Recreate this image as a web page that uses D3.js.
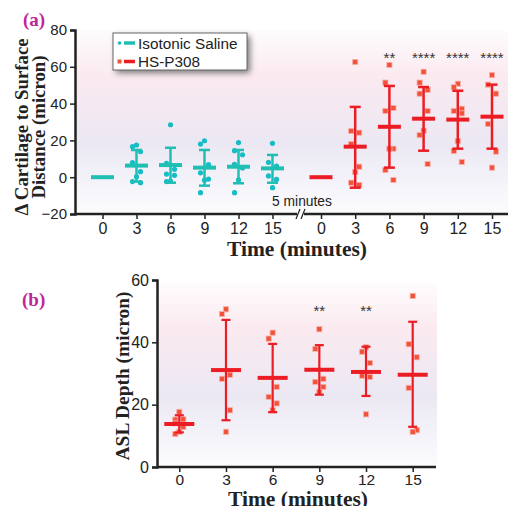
<!DOCTYPE html>
<html>
<head>
<meta charset="utf-8">
<script src="https://cdn.jsdelivr.net/npm/d3@7"></script>
<style>
  body { margin: 0; background: #fff; }
  text { font-family: "Liberation Sans", Arial, sans-serif; }
  text.serif { font-family: "Liberation Serif", "Times New Roman", serif; font-weight: bold; }
</style>
</head>
<body>
<div id="chart"></div>
<script>
// time points (minutes)
var times = [0, 3, 6, 9, 12, 15];

// panel (a) - isotonic saline
var salMean = [0, 6.3, 6.6, 5.2, 5.7, 4.8];
var salHi = [null, 14.8, 16, 14.8, 14.8, 12.1];
var salLo = [null, -2.4, -3.0, -4.6, -3.3, -3.0];
var salPts = [
  [],
  [17.5, 16.6, 13.9, 8.0, 3.0, 0.3, -2.4, -3.0],
  [28.5, 7.5, 4.3, 1.7, 1.0, -2.1, -2.4],
  [19.8, 18.0, 6.8, 2.4, -1.0, -1.6, -8.4],
  [18.8, 14.4, 12.2, 7.0, 5.0, -1.5, -8.4],
  [18.4, 8.1, 6.1, 0.7, -1.2, -5.7]
];

// panel (a) - HS-P308
var hsMean = [0, 16.6, 27.4, 31.8, 31.3, 32.9];
var hsHi = [null, 38.2, 49.6, 49, 47, 50.3];
var hsLo = [null, -5.7, 5.2, 14.4, 15.5, 15.5];
var hsPts = [
  [],
  [62.6, 25.1, 24.2, 18.0, 5.7, 2.8, -3.0, -4.2],
  [61, 51.4, 37.6, 36, 15.5, 15.5, 3.9, -1.5],
  [57.3, 51.4, 47.4, 45.4, 36, 25.3, 22.9, 7.2],
  [50.8, 48.9, 37.2, 36, 34.7, 19.7, 14.2, 8.3],
  [55.5, 50.3, 45.4, 28.9, 13.9, 5.2]
];
var hsStars = ["", "", "**", "****", "****", "****"];

// panel (b) - ASL depth
var aslMean = [13.8, 31.1, 28.6, 31.2, 30.5, 29.6];
var aslHi = [16.6, 47.2, 39.5, 39.1, 38.6, 46.6];
var aslLo = [11.1, 15.0, 17.6, 23.2, 22.8, 12.9];
var aslPts = [
  [17.7, 15.2, 15.3, 14.0, 12.9, 11.3, 10.6],
  [50.6, 49.1, 29.6, 28.3, 18.2, 11.3],
  [43.1, 41.2, 25.7, 22.5, 20.4, 18.2],
  [44.2, 37.9, 28.3, 27.3, 25.7, 24.1],
  [38.4, 37, 33.4, 29.3, 28.9, 16.9],
  [54.9, 39.4, 35.2, 25.4, 11.8, 11.3]
];
var aslStars = ["", "", "", "**", "**", ""];

var yTicksA = [-20, 0, 20, 40, 60, 80];
var yTicksB = [0, 20, 40, 60];

var teal = "#1fbfb4", tealDot = "#17bcc6";
var red = "#ec1c24", redPt = "#f0533a";
var ink = "#222";

var svg = d3.select("#chart").append("svg")
  .attr("width", 508).attr("height", 506);

var defs = svg.append("defs");
var grad = defs.append("linearGradient").attr("id", "bg")
  .attr("x1", 0).attr("y1", 0).attr("x2", 0).attr("y2", 1);
[[0, "#fefcfd"], [0.25, "#fbeaf0"], [0.62, "#ebe8f3"], [1, "#fcfcfe"]].forEach(function(s) {
  grad.append("stop").attr("offset", s[0]).attr("stop-color", s[1]);
});
var shadow = defs.append("filter").attr("id", "shadow")
  .attr("x", "-20%").attr("y", "-30%").attr("width", "150%").attr("height", "180%");
shadow.append("feGaussianBlur").attr("stdDeviation", 3);

var jitter = [0, -4, 4, -4, 4, 0, -4, 4];

// ---------- panel (a) ----------
var yA = d3.scaleLinear().domain([-20, 80]).range([214, 30]);
var xSal = d3.scaleLinear().domain([0, 15]).range([102.5, 272.5]);
var xHs = d3.scaleLinear().domain([0, 15]).range([321, 492]);

svg.append("rect").attr("x", 76).attr("y", 30).attr("width", 432).attr("height", 184)
  .attr("fill", "url(#bg)");

var axA = svg.append("g").attr("transform", "translate(75,0)")
  .call(d3.axisLeft(yA).tickValues(yTicksA).tickSizeOuter(0).tickSize(5));
var axSal = svg.append("g").attr("transform", "translate(0,214)")
  .call(d3.axisBottom(xSal).tickValues(times).tickSize(5));
var axHs = svg.append("g").attr("transform", "translate(0,214)")
  .call(d3.axisBottom(xHs).tickValues(times).tickSize(5));
axSal.select(".domain").remove();
axHs.select(".domain").remove();

// axis line with break
svg.append("line").attr("x1", 75).attr("x2", 297).attr("y1", 214).attr("y2", 214)
  .attr("stroke", ink).attr("stroke-width", 2.5);
svg.append("line").attr("x1", 304).attr("x2", 508).attr("y1", 214).attr("y2", 214)
  .attr("stroke", ink).attr("stroke-width", 2.5);
[296, 301].forEach(function(x0) {
  svg.append("line").attr("x1", x0).attr("x2", x0 + 4).attr("y1", 219).attr("y2", 209)
    .attr("stroke", ink).attr("stroke-width", 1.2);
});
svg.append("text").attr("x", 302).attr("y", 206).attr("text-anchor", "middle")
  .attr("font-size", 13.8).attr("fill", ink).text("5 minutes");

function styleAxis(g, size) {
  g.selectAll(".domain").attr("stroke", ink).attr("stroke-width", 2.5);
  g.selectAll(".tick line").attr("stroke", ink).attr("stroke-width", 1.5);
  g.selectAll(".tick text").attr("font-size", size).attr("fill", ink);
}
styleAxis(axA, 15);
styleAxis(axSal, 16);
styleAxis(axHs, 16);
axSal.selectAll(".tick text").attr("y", 9);
axHs.selectAll(".tick text").attr("y", 9);

function drawGroup(g, x, y, mean, hi, lo, pts, opt) {
  // points
  times.forEach(function(t, i) {
    pts[i].forEach(function(v, j) {
      var px = x(t) + jitter[j % jitter.length];
      if (opt.square) {
        g.append("rect").attr("x", px - 2.6).attr("y", y(v) - 2.6)
          .attr("width", 5.2).attr("height", 5.2)
          .attr("fill", opt.ptColor).attr("stroke", "#f9b4b0").attr("stroke-width", 0.8);
      } else {
        g.append("circle").attr("cx", px).attr("cy", y(v)).attr("r", 2.6)
          .attr("fill", opt.ptColor);
      }
    });
  });
  // error bars
  times.forEach(function(t, i) {
    if (hi[i] !== null) {
      g.append("line").attr("x1", x(t)).attr("x2", x(t))
        .attr("y1", y(hi[i])).attr("y2", y(lo[i]))
        .attr("stroke", opt.color).attr("stroke-width", opt.sw);
      [hi[i], lo[i]].forEach(function(v) {
        g.append("line").attr("x1", x(t) - opt.cap).attr("x2", x(t) + opt.cap)
          .attr("y1", y(v)).attr("y2", y(v))
          .attr("stroke", opt.color).attr("stroke-width", opt.sw);
      });
    }
    g.append("line").attr("x1", x(t) - opt.bar).attr("x2", x(t) + opt.bar)
      .attr("y1", y(mean[i])).attr("y2", y(mean[i]))
      .attr("stroke", opt.color).attr("stroke-width", opt.mw);
  });
}

var gA = svg.append("g");
drawGroup(gA, xSal, yA, salMean, salHi, salLo, salPts,
  { color: teal, ptColor: tealDot, square: false, sw: 2.5, cap: 5.5, bar: 11.5, mw: 4 });
drawGroup(gA, xHs, yA, hsMean, hsHi, hsLo, hsPts,
  { color: red, ptColor: redPt, square: true, sw: 2.5, cap: 5.5, bar: 11.5, mw: 4 });

gA.selectAll(".stars").data(times).enter().append("text")
  .attr("x", function(t) { return xHs(t); }).attr("y", 63)
  .attr("text-anchor", "middle").attr("font-size", 15).attr("fill", "#333")
  .text(function(t, i) { return hsStars[i]; });

// legend
svg.append("rect").attr("x", 116).attr("y", 36).attr("width", 134).attr("height", 37)
  .attr("fill", "#777").attr("filter", "url(#shadow)");
svg.append("rect").attr("x", 113).attr("y", 33).attr("width", 134).attr("height", 37)
  .attr("fill", "#fff").attr("stroke", "#666").attr("stroke-width", 1);
var legend = [
  { label: "Isotonic Saline", color: teal, pt: tealDot, square: false },
  { label: "HS-P308", color: red, pt: redPt, square: true }
];
legend.forEach(function(d, i) {
  var ly = 43 + i * 18.5;
  if (d.square) {
    svg.append("rect").attr("x", 117.5).attr("y", ly - 2).attr("width", 4).attr("height", 4).attr("fill", d.pt);
  } else {
    svg.append("circle").attr("cx", 119.5).attr("cy", ly).attr("r", 1.8).attr("fill", d.pt);
  }
  svg.append("line").attr("x1", 124).attr("x2", 135).attr("y1", ly).attr("y2", ly)
    .attr("stroke", d.color).attr("stroke-width", 3.5);
  svg.append("text").attr("x", 138).attr("y", ly + 5.5).attr("font-size", 15.3)
    .attr("fill", ink).text(d.label);
});

// titles (a)
svg.append("text").attr("class", "serif").attr("x", 23).attr("y", 26)
  .attr("font-size", 19).attr("fill", "#c0269a").text("(a)");
svg.append("text").attr("class", "serif").attr("x", 297).attr("y", 256).attr("text-anchor", "middle")
  .attr("font-size", 21.5).attr("fill", ink).text("Time (minutes)");
var ylA = svg.append("text").attr("class", "serif").attr("transform", "translate(0,127) rotate(-90)")
  .attr("text-anchor", "middle")
  .attr("font-size", 18.8).attr("fill", ink);
ylA.append("tspan").attr("x", 0).attr("y", 28).text("\u0394 Cartilage to Surface");
ylA.append("tspan").attr("x", 0).attr("y", 45).text("Distance (micron)");

// ---------- panel (b) ----------
var yB = d3.scaleLinear().domain([0, 60]).range([467, 280]);
var xB = d3.scaleLinear().domain([0, 15]).range([179.3, 412.7]);

svg.append("rect").attr("x", 158).attr("y", 283).attr("width", 279).attr("height", 184)
  .attr("fill", "url(#bg)");

var axBY = svg.append("g").attr("transform", "translate(157,0)")
  .call(d3.axisLeft(yB).tickValues(yTicksB).tickSizeOuter(0).tickSize(5));
var axBX = svg.append("g").attr("transform", "translate(0,467)")
  .call(d3.axisBottom(xB).tickValues(times).tickSize(5));
axBX.select(".domain").remove();
svg.append("line").attr("x1", 157).attr("x2", 436).attr("y1", 467).attr("y2", 467)
  .attr("stroke", ink).attr("stroke-width", 2.5);
styleAxis(axBY, 16);
styleAxis(axBX, 15.5);
axBX.selectAll(".tick text").attr("y", 7);

var gB = svg.append("g");
drawGroup(gB, xB, yB, aslMean, aslHi, aslLo, aslPts,
  { color: red, ptColor: redPt, square: true, sw: 2.2, cap: 4.5, bar: 15, mw: 4 });
gB.selectAll(".stars").data(times).enter().append("text")
  .attr("x", function(t) { return xB(t); }).attr("y", 316)
  .attr("text-anchor", "middle").attr("font-size", 15).attr("fill", "#333")
  .text(function(t, i) { return aslStars[i]; });

svg.append("text").attr("class", "serif").attr("x", 22).attr("y", 306)
  .attr("font-size", 19).attr("fill", "#c0269a").text("(b)");
svg.append("text").attr("class", "serif").attr("x", 298).attr("y", 506).attr("text-anchor", "middle")
  .attr("font-size", 21.5).attr("fill", ink).text("Time (minutes)");
svg.append("text").attr("class", "serif").attr("transform", "translate(129,376) rotate(-90)")
  .attr("text-anchor", "middle")
  .attr("font-size", 19.4).attr("fill", ink).text("ASL Depth (micron)");
</script>
</body>
</html>
